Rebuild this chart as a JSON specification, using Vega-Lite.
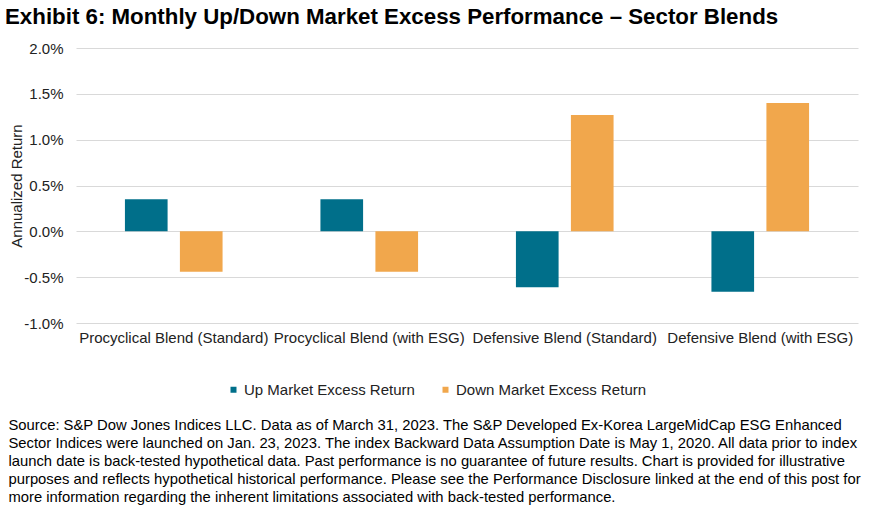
{
  "$schema": "https://vega.github.io/schema/vega-lite/v6.json",
  "autosize": {"type": "none"},
  "padding": {"left": 76, "top": 48, "right": 13, "bottom": 182},
  "width": 782,
  "height": 275,
  "background": "white",
  "title": {
    "text": "Exhibit 6: Monthly Up/Down Market Excess Performance – Sector Blends",
    "anchor": "start",
    "frame": "group",
    "dx": -71,
    "dy": 15,
    "offset": 10,
    "baseline": "alphabetic",
    "font": "Liberation Sans",
    "fontSize": 22.3,
    "fontWeight": "bold",
    "color": "#000000"
  },
  "data": {
    "values": [
      {"blend": "Procyclical Blend (Standard)", "series": "Up Market Excess Return", "value": 0.0035},
      {"blend": "Procyclical Blend (Standard)", "series": "Down Market Excess Return", "value": -0.0044},
      {"blend": "Procyclical Blend (with ESG)", "series": "Up Market Excess Return", "value": 0.0035},
      {"blend": "Procyclical Blend (with ESG)", "series": "Down Market Excess Return", "value": -0.0044},
      {"blend": "Defensive Blend (Standard)", "series": "Up Market Excess Return", "value": -0.0061},
      {"blend": "Defensive Blend (Standard)", "series": "Down Market Excess Return", "value": 0.0127},
      {"blend": "Defensive Blend (with ESG)", "series": "Up Market Excess Return", "value": -0.0066},
      {"blend": "Defensive Blend (with ESG)", "series": "Down Market Excess Return", "value": 0.0140}
    ]
  },
  "mark": {"type": "bar"},
  "encoding": {
    "x": {
      "field": "blend",
      "type": "nominal",
      "sort": null,
      "scale": {"paddingInner": 0, "paddingOuter": 0},
      "axis": {
        "title": [
          "Source: S&P Dow Jones Indices LLC. Data as of March 31, 2023. The S&P Developed Ex-Korea LargeMidCap ESG Enhanced",
          "Sector Indices were launched on Jan. 23, 2023. The index Backward Data Assumption Date is May 1, 2020. All data prior to index",
          "launch date is back-tested hypothetical data. Past performance is no guarantee of future results. Chart is provided for illustrative",
          "purposes and reflects hypothetical historical performance. Please see the Performance Disclosure linked at the end of this post for",
          "more information regarding the inherent limitations associated with back-tested performance."
        ],
        "titleX": -68,
        "titleY": 94,
        "titleAlign": "left",
        "titleAnchor": "start",
        "titleBaseline": "top",
        "titleFont": "Liberation Sans",
        "titleFontSize": 14.8,
        "titleFontWeight": "normal",
        "titleLineHeight": 18,
        "titleColor": "#000000",
        "titleLimit": 1000,
        "labelAngle": 0,
        "labelFont": "Liberation Sans",
        "labelFontSize": 15,
        "labelColor": "#222222",
        "labelPadding": 7,
        "labelOverlap": false,
        "labelLimit": 400,
        "ticks": false,
        "domain": false,
        "grid": false
      }
    },
    "xOffset": {
      "field": "series",
      "type": "nominal",
      "sort": ["Up Market Excess Return", "Down Market Excess Return"],
      "scale": {"paddingInner": 0.224, "paddingOuter": 0.89}
    },
    "y": {
      "field": "value",
      "type": "quantitative",
      "scale": {"domain": [-0.01, 0.02], "nice": false, "zero": true},
      "axis": {
        "title": "Annualized Return",
        "format": ".1%",
        "labelExpr": "replace(datum.label, '−', '-')",
        "values": [-0.01, -0.005, 0, 0.005, 0.01, 0.015, 0.02],
        "titleFont": "Liberation Sans",
        "titleFontSize": 15,
        "titleFontWeight": "normal",
        "titleColor": "#222222",
        "titlePadding": -1,
        "labelFont": "Liberation Sans",
        "labelFontSize": 15,
        "labelColor": "#222222",
        "labelPadding": 13,
        "ticks": false,
        "domain": false,
        "grid": true,
        "gridColor": "#D9D9D9",
        "gridWidth": 1
      }
    },
    "color": {
      "field": "series",
      "type": "nominal",
      "sort": ["Up Market Excess Return", "Down Market Excess Return"],
      "scale": {
        "domain": ["Up Market Excess Return", "Down Market Excess Return"],
        "range": ["#006F8A", "#F1A74C"]
      },
      "legend": {
        "title": null,
        "orient": "none",
        "direction": "horizontal",
        "legendX": 150,
        "legendY": 334,
        "padding": 0,
        "symbolType": "square",
        "symbolSize": 36,
        "symbolStrokeWidth": 0,
        "labelOffset": 3,
        "columnPadding": 23,
        "labelFont": "Liberation Sans",
        "labelFontSize": 15,
        "labelColor": "#222222",
        "labelLimit": 400
      }
    }
  },
  "config": {
    "view": {"stroke": null}
  }
}
